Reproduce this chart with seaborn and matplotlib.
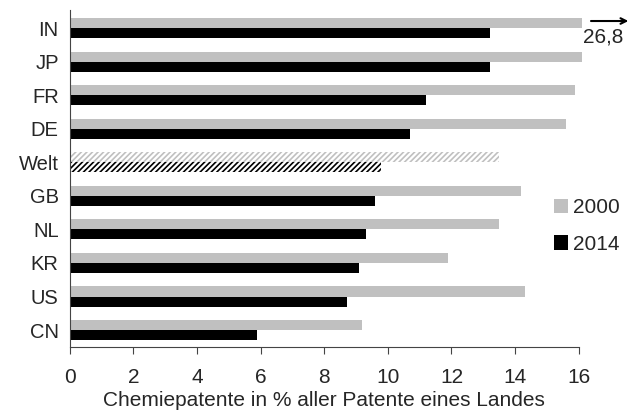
import numpy as np
import pandas as pd
import matplotlib.pyplot as plt
import seaborn as sns

countries = ['IN', 'JP', 'FR', 'DE', 'Welt', 'GB', 'NL', 'KR', 'US', 'CN']
share_2000 = [26.8, 16.1, 15.9, 15.6, 13.5, 14.2, 13.5, 11.9, 14.3, 9.2]
share_2014 = [13.2, 13.2, 11.2, 10.7, 9.8, 9.6, 9.3, 9.1, 8.7, 5.9]
years = ['2000', '2014']
x_max = 16
cut_at = 16.12  # bars longer than the axis are cut here

sns.set_style('white')
plt.rcParams['font.family'] = ['Liberation Sans', 'DejaVu Sans']
plt.rcParams['hatch.linewidth'] = 1.2

df = pd.DataFrame({
    'land': countries * 2,
    'jahr': [years[0]] * len(countries) + [years[1]] * len(countries),
    'wert': share_2000 + share_2014,
})
df['shown'] = np.minimum(df['wert'], cut_at)

fig = plt.figure(figsize=(6.29, 4.11), dpi=100)
ax = fig.add_axes([0.111, 0.156, 0.809, 0.819])

palette = {'2000': '#c0c0c0', '2014': '#000000'}
sns.barplot(data=df, x='shown', y='land', hue='jahr', orient='h',
            palette=palette, width=0.6, gap=0, saturation=1,
            linewidth=0, ax=ax, legend=True)

# hatch the world average
welt = countries.index('Welt')
for cont, yr in zip(ax.containers, years):
    for bar in cont:
        bar.set_clip_on(False)
    bar = cont[welt]
    bar.set_facecolor('white')
    bar.set_edgecolor(palette[yr])
    bar.set_linewidth(0)
    bar.set_hatch('//////')

ax.set_xlim(0, x_max)
ax.set_ylim(9.5, -0.53)
ax.set_xticks(range(0, 17, 2))
ax.set_xlabel('Chemiepatente in % aller Patente eines Landes', fontsize=15, labelpad=3)
ax.set_ylabel('')
ax.tick_params(axis='x', labelsize=15, length=5, width=0.8, color='#444444',
               direction='out', bottom=True, pad=10)
ax.tick_params(axis='y', labelsize=14.5, length=0, pad=8)
sns.despine(ax=ax)
for s in ['left', 'bottom']:
    ax.spines[s].set_color('#444444')
    ax.spines[s].set_linewidth(0.8)

# arrow for the cut bar
ax.annotate('', xy=(17.65, -0.21), xytext=(16.3, -0.21),
            arrowprops=dict(arrowstyle='->', lw=1.5, color='black'),
            annotation_clip=False)
ax.text(16.78, 0.27, '26,8', fontsize=15, ha='center', va='center', clip_on=False)

handles, labels = ax.get_legend_handles_labels()
ax.get_legend().remove()
fig.legend(handles, labels, loc='center left', bbox_to_anchor=(554 / 629, 1 - 226 / 411),
           frameon=False, fontsize=15, handlelength=0.68, handleheight=0.68,
           handletextpad=0.25, labelspacing=0.85, borderpad=0, borderaxespad=0)

fig.savefig('out.png', dpi=100)
